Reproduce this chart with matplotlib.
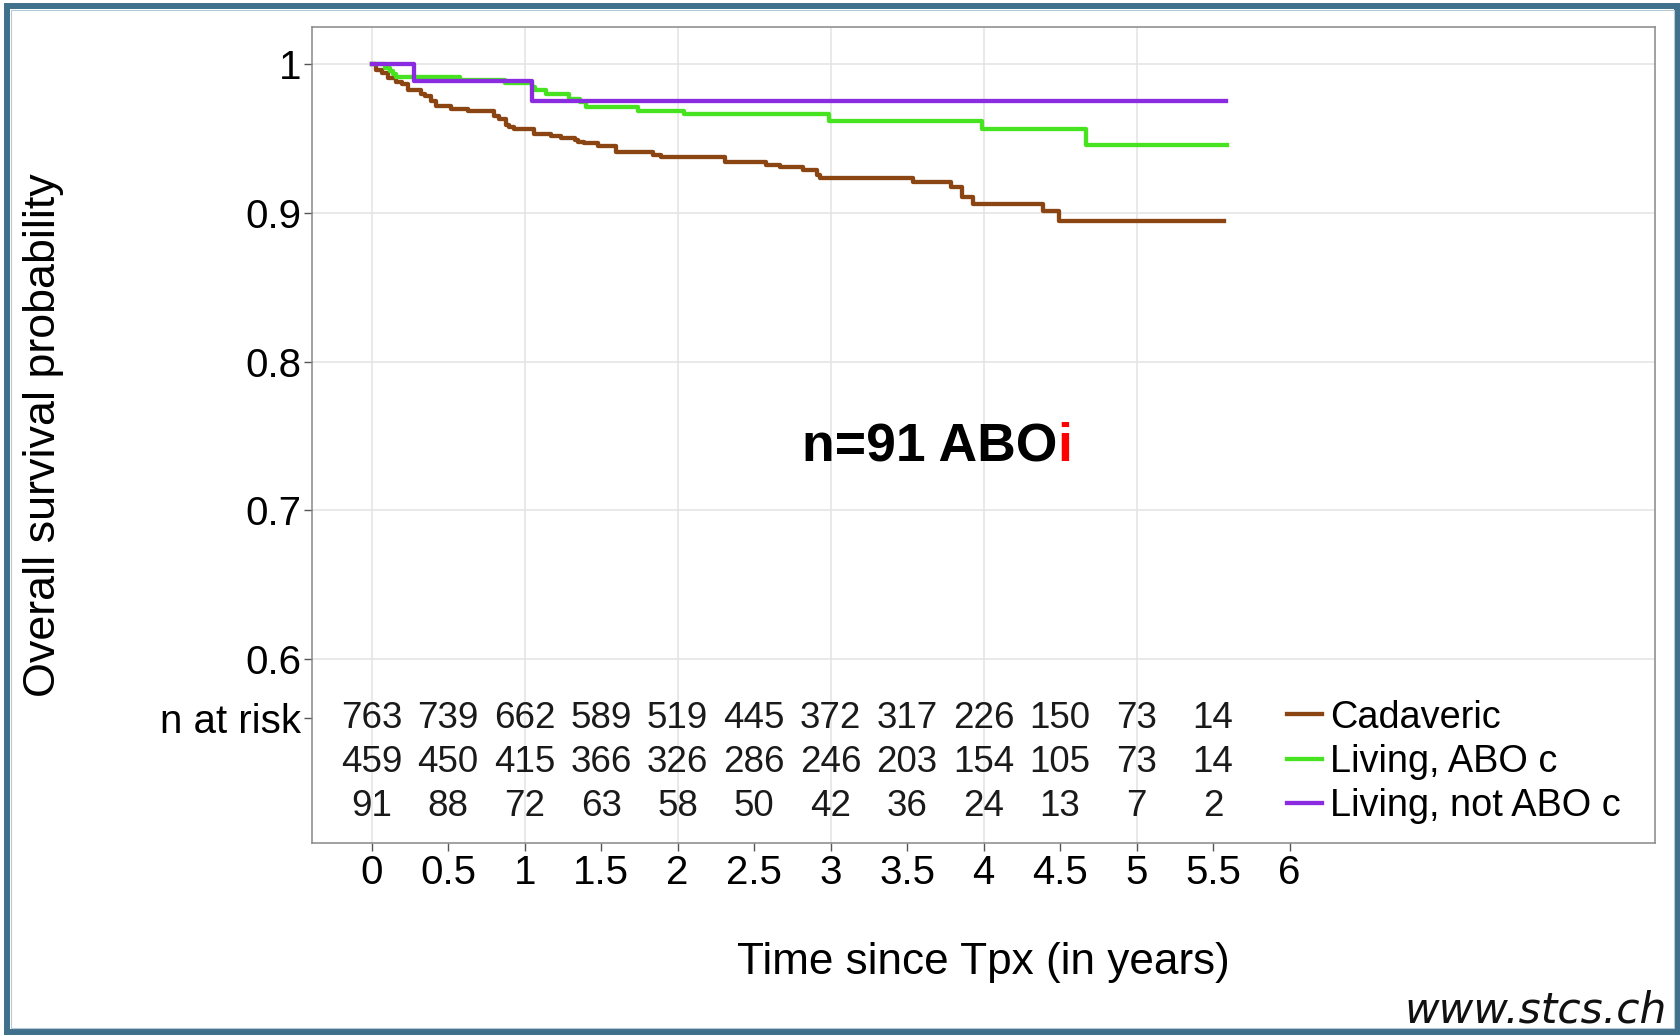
import numpy as np
import matplotlib.pyplot as plt
from matplotlib.patches import Rectangle

plt.rcParams['font.family'] = ['Liberation Sans', 'DejaVu Sans']

# Kaplan-Meier steps (time in years, survival after the step)
cad_t = [0, 0.03, 0.07, 0.11, 0.16, 0.20, 0.24, 0.32, 0.35, 0.39, 0.42, 0.52, 0.63,
         0.80, 0.83, 0.88, 0.90, 0.93, 1.06, 1.17, 1.24, 1.33, 1.35, 1.39, 1.48, 1.60,
         1.84, 1.89, 2.31, 2.58, 2.67, 2.82, 2.91, 2.93, 3.54, 3.79, 3.86, 3.93, 4.39,
         4.49, 5.57]
cad_s = [1.0, 0.996, 0.994, 0.991, 0.988, 0.9865, 0.983, 0.980, 0.9787, 0.9753, 0.9722,
         0.970, 0.9686, 0.9652, 0.963, 0.9592, 0.9576, 0.9563, 0.953, 0.9515, 0.9504,
         0.9493, 0.948, 0.947, 0.9448, 0.9407, 0.939, 0.9375, 0.9346, 0.9324, 0.9306,
         0.9286, 0.9257, 0.9235, 0.9206, 0.9172, 0.9105, 0.906, 0.9013, 0.8948, 0.8948]

abo_t = [0, 0.09, 0.12, 0.14, 0.16, 0.58, 0.87, 1.05, 1.07, 1.14, 1.29, 1.36, 1.40,
         1.74, 2.04, 2.99, 3.99, 4.67, 5.59]
abo_s = [1.0, 0.9978, 0.9956, 0.9935, 0.9917, 0.9894, 0.9872, 0.985, 0.9827, 0.9798,
         0.9764, 0.9748, 0.9715, 0.9688, 0.9666, 0.962, 0.9563, 0.9457, 0.9457]

nabo_t = [0, 0.28, 1.05, 5.585]
nabo_s = [1.0, 0.989, 0.975, 0.975]

groups = ['Cadaveric', 'Living, ABO c', 'Living, not ABO c']
colors = ['#8B4513', '#47E320', '#8A2BE2']

# numbers at risk
risk_times = [0, 0.5, 1, 1.5, 2, 2.5, 3, 3.5, 4, 4.5, 5, 5.5]
risk_cad = [763, 739, 662, 589, 519, 445, 372, 317, 226, 150, 73, 14]
risk_abo = [459, 450, 415, 366, 326, 286, 246, 203, 154, 105, 73, 14]
risk_nabo = [91, 88, 72, 63, 58, 50, 42, 36, 24, 13, 7, 2]

x_ticks = np.arange(0, 6.5, 0.5)
y_ticks = [0.6, 0.7, 0.8, 0.9, 1.0]

fig = plt.figure(figsize=(16.81, 10.35), dpi=100)
ax = fig.add_axes([0.1854, 0.1852, 0.7991, 0.7884])
ax.set_xlim(-0.392, 8.388)
ax.set_ylim(0.4758, 1.0249)

# grid only at whole years and at the probability ticks
for g in range(0, 6):
    ax.axvline(g, color='#e3e3e3', lw=1.1, zorder=0)
for g in y_ticks:
    ax.axhline(g, color='#e3e3e3', lw=1.1, zorder=0)

lines = []
for t, s, c, name in zip([cad_t, abo_t, nabo_t], [cad_s, abo_s, nabo_s], colors, groups):
    ln, = ax.step(t, s, where='post', color=c, lw=3.1, label=name, zorder=3)
    lines.append(ln)

# risk table inside the panel
row_y = [0.5535, 0.5235, 0.494]
for row, yy in zip([risk_cad, risk_abo, risk_nabo], row_y):
    for t, n in zip(risk_times, row):
        ax.text(t, yy, str(n), ha='center', va='baseline', fontsize=26.5, color='#1a1a1a')

ax.legend(handles=lines, loc='upper left', bbox_to_anchor=(0.726, 0.176),
          frameon=False, fontsize=27.3, borderpad=0, borderaxespad=0,
          handlelength=0.93, handletextpad=0.2, labelspacing=0.22)

t1 = ax.text(2.81, 0.733, 'n=91 ABO', fontsize=38.5, fontweight='bold',
             ha='left', va='baseline')
ax.annotate('i', xy=(1, 0), xycoords=t1, fontsize=38.5, fontweight='bold',
            color='#FF0000', ha='left', va='bottom')

ax.set_xticks(x_ticks)
ax.set_xticklabels(['%g' % v for v in x_ticks])
ax.set_yticks([0.56] + y_ticks)
ax.set_yticklabels(['n at risk'] + ['%g' % v for v in y_ticks])
ax.tick_params(axis='both', labelsize=29, length=5.5, width=1, color='#555555')
ax.tick_params(axis='y', pad=2)
ax.tick_params(axis='x', pad=2)
for sp in ax.spines.values():
    sp.set_color('#888888')
    sp.set_linewidth(1.1)

ax.set_xlabel('Time since Tpx (in years)', fontsize=31.8)
ax.set_ylabel('Overall survival probability', fontsize=32.3)
ax.xaxis.set_label_coords(0.5, -0.121)
ax.yaxis.set_label_coords(-0.1845, 0.5)

fig.text(0.9917, 0.0119, 'www.stcs.ch', fontsize=30.5, style='italic',
         family='DejaVu Sans', ha='right', va='baseline', color='#111111')

# frame around the slide
fig.patches.append(Rectangle((0.00416, 0.0029), 0.99346, 0.99082, transform=fig.transFigure,
                             fill=False, edgecolor='#41708c', lw=4.3))
fig.patches.append(Rectangle((0.0063, 0.0068), 0.9895, 0.9835, transform=fig.transFigure,
                             fill=False, edgecolor='#b7c9d4', lw=0.8))

fig.savefig('out.png', dpi=100)
